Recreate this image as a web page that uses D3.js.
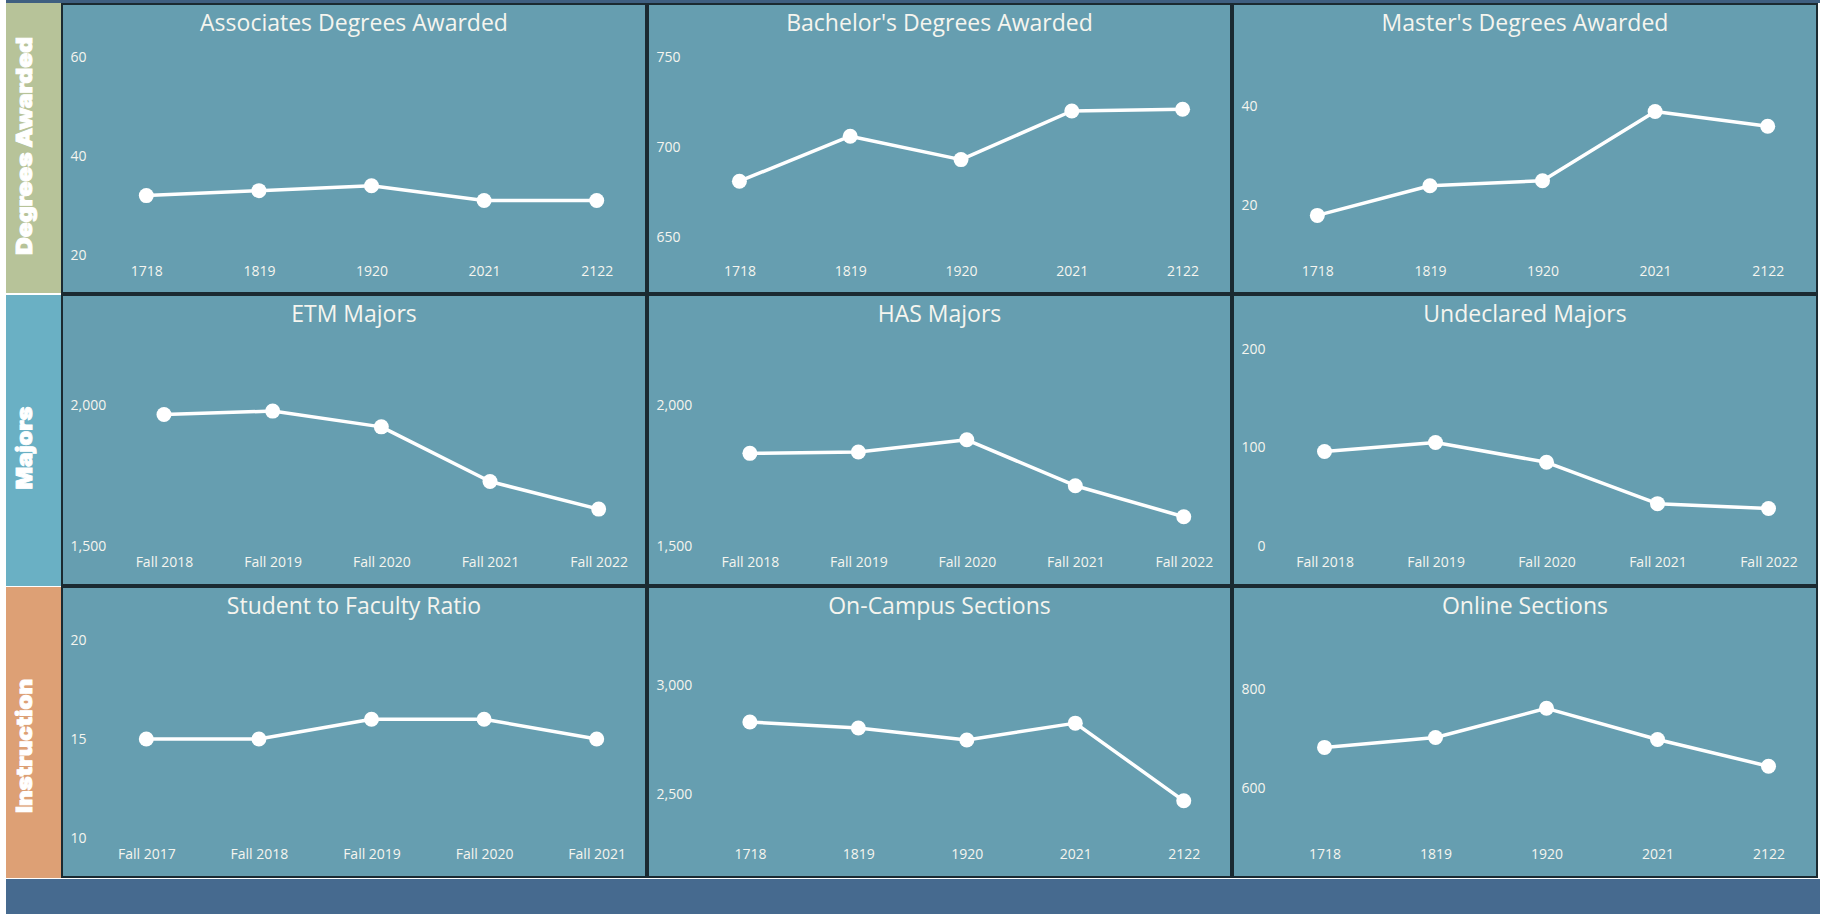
<!DOCTYPE html>
<html>
<head>
<meta charset="utf-8">
<script src="https://cdn.jsdelivr.net/npm/d3@7"></script>
<style>
  html, body { margin: 0; padding: 0; background: #ffffff; }
  svg { display: block; }
</style>
</head>
<body>
<svg id="chart" width="1824" height="914"></svg>
<script>
// ---------- data ----------
const yearCategories = ["1718", "1819", "1920", "2021", "2122"];
const fall1822Categories = ["Fall 2018", "Fall 2019", "Fall 2020", "Fall 2021", "Fall 2022"];
const fall1721Categories = ["Fall 2017", "Fall 2018", "Fall 2019", "Fall 2020", "Fall 2021"];

const rowLabels = ["Degrees Awarded", "Majors", "Instruction"];

const chartTitles = [
  "Associates Degrees Awarded", "Bachelor's Degrees Awarded", "Master's Degrees Awarded",
  "ETM Majors", "HAS Majors", "Undeclared Majors",
  "Student to Faculty Ratio", "On-Campus Sections", "Online Sections"
];

const associatesValues = [32, 33, 34, 31, 31];
const bachelorsValues  = [681, 706, 693, 720, 721];
const mastersValues    = [18, 24, 25, 39, 36];
const etmValues        = [1967, 1979, 1923, 1729, 1631];
const hasValues        = [1829, 1834, 1877, 1714, 1604];
const undeclaredValues = [96, 105, 85, 43, 38];
const ratioValues      = [15, 15, 16, 16, 15];
const onCampusValues   = [2830, 2803, 2748, 2825, 2470];
const onlineValues     = [683, 703, 762, 699, 645];

const associatesTicks = [20, 40, 60];
const bachelorsTicks  = [650, 700, 750];
const mastersTicks    = [20, 40];
const etmTicks        = [1500, 2000];
const hasTicks        = [1500, 2000];
const undeclaredTicks = [0, 100, 200];
const ratioTicks      = [10, 15, 20];
const onCampusTicks   = [2500, 3000];
const onlineTicks     = [600, 800];

const associatesDomain = [20, 60];
const bachelorsDomain  = [640, 750];
const mastersDomain    = [10, 50];
const etmDomain        = [1500, 2203];
const hasDomain        = [1500, 2203];
const undeclaredDomain = [0, 201];
const ratioDomain      = [10, 20];
const onCampusDomain   = [2300, 3205];
const onlineDomain     = [500, 900];

const charts = [
  { title: chartTitles[0], cats: yearCategories,     values: associatesValues, ticks: associatesTicks, domain: associatesDomain },
  { title: chartTitles[1], cats: yearCategories,     values: bachelorsValues,  ticks: bachelorsTicks,  domain: bachelorsDomain },
  { title: chartTitles[2], cats: yearCategories,     values: mastersValues,    ticks: mastersTicks,    domain: mastersDomain },
  { title: chartTitles[3], cats: fall1822Categories, values: etmValues,        ticks: etmTicks,        domain: etmDomain },
  { title: chartTitles[4], cats: fall1822Categories, values: hasValues,        ticks: hasTicks,        domain: hasDomain },
  { title: chartTitles[5], cats: fall1822Categories, values: undeclaredValues, ticks: undeclaredTicks, domain: undeclaredDomain },
  { title: chartTitles[6], cats: fall1721Categories, values: ratioValues,      ticks: ratioTicks,      domain: ratioDomain },
  { title: chartTitles[7], cats: yearCategories,     values: onCampusValues,   ticks: onCampusTicks,   domain: onCampusDomain },
  { title: chartTitles[8], cats: yearCategories,     values: onlineValues,     ticks: onlineTicks,     domain: onlineDomain }
];

// ---------- layout ----------
const svg = d3.select("#chart");
const colX = [61, 647, 1232, 1818];
const rowY = [3, 294, 586, 878];
const stripColors = ["#b7c399", "#6ab0c4", "#dda075"];
const rowLabelCenters = [146, 448, 746];
const rowLabelLengths = [218, 83, 134];
const panelFill = "#669eb0";
const borderColor = "#1b2a31";
const textColor = "#f5f5ef";
const uiFont = "'Open Sans', 'Noto Sans', sans-serif";

// top and bottom bars
svg.append("rect").attr("x", 6).attr("y", 0).attr("width", 1814).attr("height", 3).attr("fill", "#3f5f80");
svg.append("rect").attr("x", 6).attr("y", 879).attr("width", 1814).attr("height", 35).attr("fill", "#466a8f");

// row strips
rowLabels.forEach((lab, r) => {
  svg.append("rect")
    .attr("x", 6).attr("y", rowY[r] + (r ? 1 : 0))
    .attr("width", colX[0] - 6).attr("height", rowY[r + 1] - rowY[r] - 1)
    .attr("fill", stripColors[r]);
  svg.append("text")
    .attr("transform", `translate(32,${rowLabelCenters[r]}) rotate(-90)`)
    .attr("text-anchor", "middle")
    .attr("font-family", "'Arial Black', Inter, Roboto, 'DejaVu Sans', sans-serif")
    .attr("font-weight", 900)
    .attr("font-size", 22)
    .attr("textLength", rowLabelLengths[r])
    .attr("lengthAdjust", "spacingAndGlyphs")
    .attr("fill", "#ffffff")
    .attr("stroke", "#ffffff").attr("stroke-width", 0.9)
    .text(lab);
});

charts.forEach((c, i) => {
  const r = Math.floor(i / 3), k = i % 3;
  const x0 = colX[k], x1 = colX[k + 1];
  const y0 = rowY[r], y1 = rowY[r + 1];
  const g = svg.append("g");

  g.append("rect")
    .attr("x", x0 + 1).attr("y", y0 + 1)
    .attr("width", x1 - x0 - 2).attr("height", y1 - y0 - 2)
    .attr("fill", panelFill)
    .attr("stroke", borderColor).attr("stroke-width", 2);

  g.append("text")
    .attr("x", (x0 + x1) / 2).attr("y", y0 + 28)
    .attr("text-anchor", "middle")
    .attr("font-family", uiFont).attr("font-size", 23)
    .attr("fill", textColor)
    .text(c.title);

  const plotTop = y0 + 54, plotBottom = y0 + 252;
  const y = d3.scaleLinear().domain(c.domain).range([plotBottom, plotTop]);

  // measure widest y label
  const fmt = d3.format(",");
  const meas = g.append("text").attr("font-family", uiFont).attr("font-size", 14);
  let maxW = 0;
  c.ticks.forEach(t => { meas.text(fmt(t)); maxW = Math.max(maxW, meas.node().getComputedTextLength()); });
  meas.remove();
  const labelRight = x0 + 9.5 + maxW;

  const yAxis = g.append("g")
    .attr("transform", `translate(${labelRight},0)`)
    .call(d3.axisLeft(y).tickValues(c.ticks).tickFormat(fmt).tickSize(0).tickPadding(0));
  yAxis.select(".domain").remove();
  yAxis.selectAll("text").attr("font-family", uiFont).attr("font-size", 14).attr("fill", textColor);

  const x = d3.scalePoint().domain(c.cats).range([labelRight + 3.5, x1 + 6]).padding(0.5);
  const xAxis = g.append("g")
    .attr("transform", `translate(0,${plotBottom})`)
    .call(d3.axisBottom(x).tickSize(0).tickPadding(11));
  xAxis.select(".domain").remove();
  xAxis.selectAll("text").attr("font-family", uiFont).attr("font-size", 14).attr("fill", textColor);

  const pts = c.cats.map((cat, j) => ({ cat, v: c.values[j] }));
  g.append("path")
    .datum(pts)
    .attr("fill", "none").attr("stroke", "#ffffff").attr("stroke-width", 3.5)
    .attr("stroke-linejoin", "round")
    .attr("d", d3.line().x(d => x(d.cat)).y(d => y(d.v)));
  g.selectAll("circle").data(pts).join("circle")
    .attr("cx", d => x(d.cat)).attr("cy", d => y(d.v)).attr("r", 7.5)
    .attr("fill", "#ffffff");
});
</script>
</body>
</html>
